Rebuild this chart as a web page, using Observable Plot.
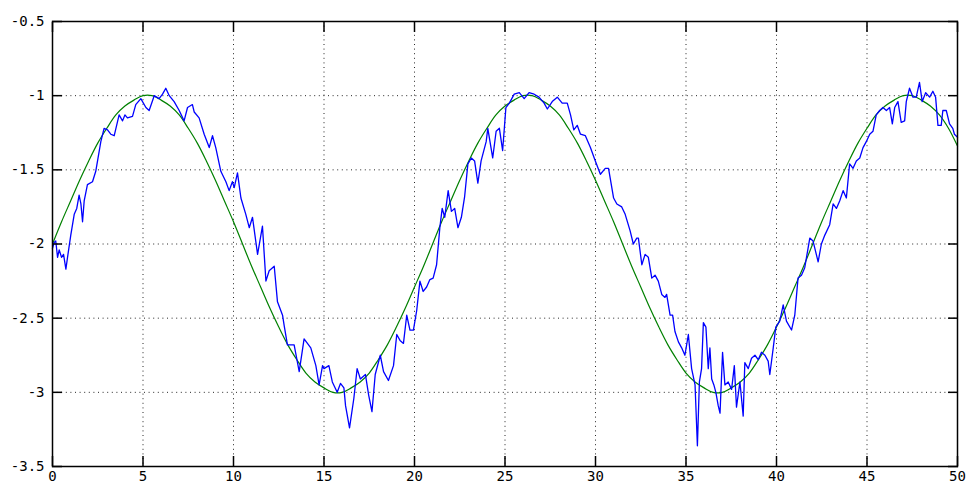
<!DOCTYPE html>
<html><head><meta charset="utf-8">
<script src="https://cdn.jsdelivr.net/npm/d3@7"></script>
<script src="https://cdn.jsdelivr.net/npm/@observablehq/plot@0.6"></script>
<style>html,body{margin:0;padding:0;background:#fff;overflow:hidden}</style>
</head><body><div id="chart"></div>
<script>
const xTicks = [0, 5, 10, 15, 20, 25, 30, 35, 40, 45, 50];
const yTicks = [-3.5, -3, -2.5, -2, -1.5, -1, -0.5];

// smooth (green) series, read every 0.5 units
const greenX = [0,0.5,1,1.5,2,2.5,3,3.5,4,4.5,5,5.5,6,6.5,7,7.5,8,8.5,9,9.5,10,10.5,11,11.5,12,12.5,13,13.5,14,14.5,15,15.5,16,16.5,17,17.5,18,18.5,19,19.5,20,20.5,21,21.5,22,22.5,23,23.5,24,24.5,25,25.5,26,26.5,27,27.5,28,28.5,29,29.5,30,30.5,31,31.5,32,32.5,33,33.5,34,34.5,35,35.5,36,36.5,37,37.5,38,38.5,39,39.5,40,40.5,41,41.5,42,42.5,43,43.5,44,44.5,45,45.5,46,46.5,47,47.5,48,48.5,49,49.5,50];
const greenY = [-2.00,-1.85,-1.71,-1.57,-1.44,-1.32,-1.22,-1.13,-1.07,-1.03,-1.00,-1.00,-1.03,-1.07,-1.13,-1.22,-1.32,-1.44,-1.57,-1.71,-1.85,
  -2.00,-2.15,-2.29,-2.43,-2.56,-2.68,-2.78,-2.87,-2.93,-2.97,-3.00,-3.00,-2.97,-2.93,-2.87,-2.78,-2.68,-2.56,-2.43,-2.29,-2.15,
  -2.00,-1.85,-1.71,-1.57,-1.44,-1.32,-1.22,-1.13,-1.07,-1.03,-1.00,-1.00,-1.03,-1.07,-1.13,-1.22,-1.32,-1.44,-1.57,-1.71,-1.85,
  -2.00,-2.15,-2.29,-2.43,-2.56,-2.68,-2.78,-2.87,-2.93,-2.97,-3.00,-3.00,-2.97,-2.93,-2.87,-2.78,-2.68,-2.56,-2.43,-2.29,-2.15,
  -2.00,-1.85,-1.71,-1.57,-1.44,-1.32,-1.22,-1.13,-1.07,-1.03,-1.00,-1.00,-1.03,-1.07,-1.13,-1.22,-1.34];

// noisy (blue) series
const blueX = [0.00,0.09,0.18,0.28,0.37,0.50,0.61,0.74,0.83,1.01,1.20,1.34,1.47,1.57,1.66,1.75,1.93,2.21,2.39,2.67,2.85,3.04,3.22,3.41,3.68,3.87,4.00,4.14,4.42,4.60,4.88,5.16,5.34,5.62,5.89,6.08,6.26,6.45,6.72,7.00,7.27,7.46,7.73,7.83,8.10,8.38,8.66,8.84,9.02,9.30,9.58,9.76,9.94,10.04,10.22,10.41,10.68,10.87,11.05,11.33,11.60,11.79,11.97,12.25,12.43,12.71,12.80,12.98,13.35,13.63,13.90,14.27,14.55,14.73,14.92,
  15.00,15.27,15.46,15.73,15.91,16.10,16.19,16.41,16.65,16.83,17.01,17.29,17.47,17.65,17.83,18.11,18.29,18.56,18.84,19.02,19.20,19.39,19.57,19.75,19.94,20.12,20.30,20.48,20.67,20.85,21.03,21.22,21.40,21.53,21.67,21.86,22.04,22.22,22.40,22.59,22.77,22.95,23.14,23.32,23.50,23.68,23.96,24.05,24.32,24.51,24.69,24.87,25.05,25.24,25.51,25.79,26.06,26.33,26.61,26.88,27.16,27.34,27.61,27.89,28.16,28.44,28.62,28.80,28.99,29.17,29.44,29.72,29.99,30.27,30.54,30.72,31.00,31.18,31.45,31.64,31.91,32.09,32.28,
  32.37,32.56,32.74,32.92,33.11,33.29,33.47,33.66,33.84,33.93,34.12,34.26,34.39,34.58,34.76,34.94,35.13,35.31,35.50,35.63,35.74,35.86,35.96,36.10,36.23,36.32,36.42,36.54,36.65,36.78,36.88,37.02,37.15,37.33,37.52,37.67,37.79,37.98,38.16,38.25,38.44,38.62,38.81,38.99,39.17,39.36,39.54,39.63,39.82,39.96,40.18,40.37,40.55,40.83,41.01,41.19,41.38,41.56,41.84,42.02,42.30,42.48,42.67,42.94,43.13,43.31,43.49,43.68,43.86,44.04,44.23,44.41,44.60,44.78,44.96,45.15,45.33,45.51,45.70,45.88,46.07,46.25,46.40,46.53,46.71,46.89,47.08,47.17,47.35,47.54,47.72,47.90,48.05,48.24,48.46,48.64,48.79,48.92,49.10,49.19,49.38,49.56,49.74,49.83,50.00];
const blueY = [-2.03,-1.99,-1.98,-2.09,-2.04,-2.09,-2.07,-2.17,-2.09,-1.94,-1.80,-1.76,-1.67,-1.73,-1.85,-1.71,-1.60,-1.58,-1.51,-1.31,-1.22,-1.23,-1.26,-1.27,-1.13,-1.17,-1.13,-1.15,-1.14,-1.06,-1.02,-1.08,-1.10,-1.00,-1.02,-0.99,-0.95,-1.00,-1.04,-1.10,-1.17,-1.08,-1.06,-1.11,-1.15,-1.26,-1.35,-1.27,-1.35,-1.51,-1.58,-1.64,-1.58,-1.62,-1.52,-1.69,-1.80,-1.89,-1.82,-2.07,-1.88,-2.25,-2.18,-2.15,-2.39,-2.48,-2.55,-2.68,-2.68,-2.86,-2.64,-2.70,-2.82,-2.95,-2.82,
  -2.84,-2.82,-2.93,-3.00,-2.94,-2.97,-3.09,-3.24,-3.04,-2.84,-2.91,-2.88,-3.02,-3.13,-2.88,-2.75,-2.86,-2.92,-2.82,-2.61,-2.65,-2.67,-2.48,-2.58,-2.58,-2.45,-2.25,-2.32,-2.29,-2.24,-2.23,-2.14,-1.89,-1.76,-1.82,-1.64,-1.78,-1.76,-1.89,-1.82,-1.68,-1.46,-1.42,-1.44,-1.59,-1.44,-1.31,-1.22,-1.42,-1.24,-1.22,-1.37,-1.08,-1.05,-0.99,-0.98,-1.02,-0.98,-0.99,-1.01,-1.05,-1.09,-1.04,-1.01,-1.05,-1.05,-1.13,-1.23,-1.20,-1.26,-1.27,-1.35,-1.44,-1.53,-1.49,-1.49,-1.69,-1.73,-1.75,-1.80,-1.91,-2.00,-1.96,
  -1.96,-2.14,-2.07,-2.09,-2.23,-2.21,-2.25,-2.34,-2.36,-2.34,-2.48,-2.48,-2.59,-2.66,-2.70,-2.75,-2.61,-2.84,-2.95,-3.36,-2.93,-2.84,-2.53,-2.56,-2.84,-2.70,-2.91,-2.95,-3.00,-3.09,-3.14,-2.73,-2.95,-2.93,-2.98,-2.82,-3.10,-2.93,-3.16,-2.80,-2.84,-2.77,-2.75,-2.78,-2.73,-2.75,-2.79,-2.88,-2.70,-2.56,-2.52,-2.41,-2.52,-2.58,-2.48,-2.23,-2.21,-2.16,-1.96,-1.98,-2.12,-2.00,-1.94,-1.87,-1.73,-1.76,-1.71,-1.64,-1.69,-1.46,-1.49,-1.44,-1.42,-1.35,-1.31,-1.26,-1.24,-1.13,-1.10,-1.08,-1.10,-1.08,-1.19,-1.08,-1.04,-1.18,-1.17,-1.04,-0.95,-1.01,-1.01,-0.91,-1.04,-0.98,-1.01,-0.97,-1.01,-1.20,-1.20,-1.10,-1.10,-1.19,-1.22,-1.26,-1.28];

const green = greenX.map((x, i) => ({x, y: greenY[i]}));
const blue = blueX.map((x, i) => ({x, y: blueY[i]}));

const gridStyle = {stroke: "#000", strokeOpacity: 0.85, strokeWidth: 1, strokeDasharray: "1,3.6"};
const fmt = d => String(d);

const chart = Plot.plot({
  width: 967,
  height: 484,
  marginLeft: 52,
  marginRight: 10,
  marginTop: 21,
  marginBottom: 18,
  style: {fontFamily: "'DejaVu Sans Mono', monospace", fontSize: "14px", color: "#000", background: "#fff", overflow: "visible"},
  x: {domain: [0, 50], label: null},
  y: {domain: [-3.5, -0.5], label: null},
  marks: [
    Plot.gridX(xTicks.slice(1, -1), gridStyle),
    Plot.gridY(yTicks.slice(1, -1), gridStyle),
    Plot.line(green, {x: "x", y: "y", stroke: "#008000", strokeWidth: 1.2, curve: "catmull-rom"}),
    Plot.line(blue, {x: "x", y: "y", stroke: "#0000ff", strokeWidth: 1.3}),
    Plot.frame({stroke: "#000", strokeWidth: 1.5}),
    Plot.axisX(xTicks, {anchor: "bottom", tickSize: -10, tickPadding: 15, tickFormat: fmt, strokeWidth: 1.5, label: null}),
    Plot.axisX(xTicks, {anchor: "top", tickSize: -10, tickFormat: () => "", strokeWidth: 1.5, label: null}),
    Plot.axisY(yTicks, {anchor: "left", tickSize: -10, tickPadding: 18, tickFormat: fmt, strokeWidth: 1.5, label: null}),
    Plot.axisY(yTicks, {anchor: "right", tickSize: -10, tickFormat: () => "", strokeWidth: 1.5, label: null})
  ]
});
document.getElementById("chart").appendChild(chart);
</script>
</body></html>
